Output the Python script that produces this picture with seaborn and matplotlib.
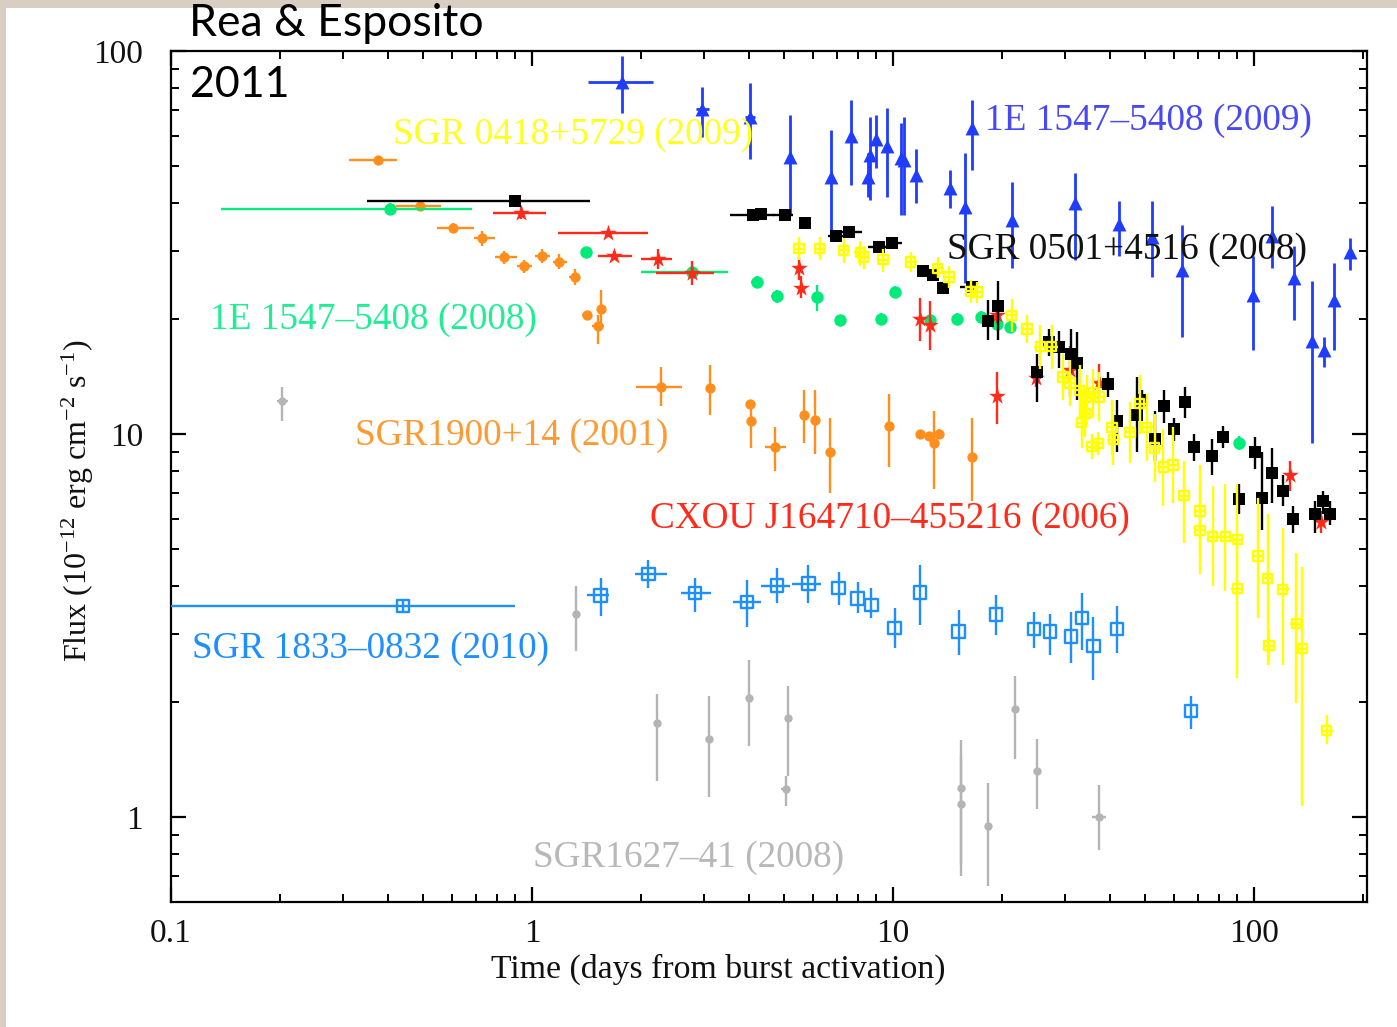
import numpy as np
import pandas as pd
import matplotlib
matplotlib.use("Agg")
import matplotlib.pyplot as plt
import seaborn as sns
from matplotlib.patches import Rectangle
from matplotlib.ticker import LogLocator, NullFormatter

nan = np.nan

# ---------------- SGR 1900+14 (2001) ----------------
sgr1900_t = [0.374, 0.488, 0.605, 0.725, 0.837, 0.952, 1.068, 1.19, 1.316, 1.42, 1.55, 1.52, 2.27,
             3.12, 4.02, 4.05, 4.71, 5.67, 6.09, 6.70, 9.75, 11.9, 12.6, 13.0, 13.4, 16.6]
sgr1900_f = [51.9, 39.5, 34.6, 32.4, 28.9, 27.4, 29.2, 28.2, 25.7, 20.4, 21.2, 19.1, 13.3,
             13.2, 12.0, 10.8, 9.27, 11.2, 10.9, 8.96, 10.5, 10.0, 9.9, 9.5, 10.0, 8.69]
sgr1900_tlo = [0.312, 0.42, 0.545, 0.69, 0.79, 0.91, 1.02, 1.14, 1.27, 1.38, nan, 1.47, 1.94,
               nan, 3.95, nan, 4.42, nan, nan, nan, nan, nan, nan, nan, nan, nan]
sgr1900_thi = [0.424, 0.56, 0.69, 0.79, 0.91, 1.0, 1.12, 1.25, 1.36, 1.47, nan, 1.58, 2.61,
               nan, 4.1, nan, 5.04, nan, nan, nan, nan, nan, nan, nan, nan, nan]
sgr1900_flo = [50.5, 38.5, 33.6, 31.0, 27.8, 26.3, 28.0, 27.0, 24.5, 19.8, 19.5, 17.2, 11.8,
               11.2, 11.7, 9.2, 8.0, 9.5, 8.85, 7.0, 8.2, 9.8, 9.7, 7.2, 9.7, 6.7]
sgr1900_fhi = [53.3, 40.5, 35.6, 33.8, 30.0, 28.5, 30.5, 29.5, 27.0, 21.0, 23.8, 20.5, 15.0,
               15.1, 12.3, 12.0, 10.4, 13.0, 13.0, 11.0, 12.7, 10.2, 10.1, 11.5, 10.3, 11.0]

# ---------------- SGR 0501+4516 (2008) ----------------
sgr0501_t = [0.897, 4.10, 4.30, 5.03, 5.72, 6.95, 7.55, 9.14, 9.96, 12.1, 12.9, 13.8, 16.6, 18.3,
             19.5, 25.1, 27.1, 28.8, 31.2, 32.3, 39.5, 41.8, 47.5, 48.9, 53.2, 56.4, 60.2, 64.2,
             68.0, 76.4, 82.2, 91.0, 100.6, 105, 112, 120, 128, 148, 155, 162]
sgr0501_f = [40.6, 37.4, 37.6, 37.3, 35.6, 32.9, 33.7, 30.8, 31.6, 26.6, 26.0, 24.1, 24.2, 19.7,
             21.6, 14.5, 17.4, 16.9, 16.2, 15.3, 13.5, 10.8, 11.2, 12.3, 9.7, 11.8, 10.3, 12.1,
             9.23, 8.78, 9.8, 6.75, 9.0, 6.8, 7.9, 7.1, 6.0, 6.2, 6.7, 6.2]
sgr0501_tlo = [0.35, 3.53, nan, 4.65, nan, 6.6, 7.2, 8.5, 9.6, nan, nan, nan, 15.3] + [nan] * 27
sgr0501_thi = [1.45, 4.67, nan, 5.3, nan, 7.3, 8.2, 9.6, 10.6, nan, nan, nan, 16.9] + [nan] * 27
sgr0501_flo = [39.5, 36.5, 36.7, 36.4, 34.7, 32.0, 32.8, 30.0, 30.8, 25.9, 25.3, 23.4, 23.5, 17.6,
               17.6, 12.1, 16.0, 14.9, 14.4, 12.3, 12.5, 9.0, 9.0, 11.6, 8.5, 10.7, 9.6, 11.0,
               8.5, 7.8, 9.2, 6.2, 8.1, 5.6, 6.6, 6.5, 5.5, 5.5, 6.2, 5.8]
sgr0501_fhi = [41.7, 38.3, 38.5, 38.2, 36.5, 33.8, 34.6, 31.6, 32.4, 27.3, 26.7, 24.8, 24.9, 22.4,
               25.1, 16.2, 18.8, 18.6, 18.8, 18.5, 14.5, 12.3, 14.1, 13.0, 11.5, 13.0, 11.0, 13.3,
               10.0, 9.7, 10.5, 7.4, 9.8, 9.0, 9.2, 7.8, 6.5, 6.7, 7.1, 6.7]

# ---------------- 1E 1547-5408 (2009) ----------------
e2009_t = [1.78, 2.95, 4.02, 5.19, 6.72, 7.64, 8.51, 8.64, 9.0, 9.63, 10.5, 10.7, 11.6, 14.4,
           15.8, 16.6, 21.3, 31.9, 42.4, 52.3, 63.3, 99.5, 112, 129, 145, 156, 167, 185]
e2009_f = [83.1, 70.4, 67.1, 52.8, 46.8, 60.0, 47.0, 53.5, 58.8, 56.5, 52.5, 51.8, 47.5, 43.8,
           39.2, 62.9, 36.3, 40.2, 35.3, 32.6, 26.8, 23.1, 32.9, 25.5, 17.5, 16.6, 22.4, 29.8]
e2009_tlo = [1.43, 2.85, 3.9] + [nan] * 25
e2009_thi = [2.16, 3.1, 4.15] + [nan] * 25
e2009_flo = [68.8, 59.8, 52.1, 37.3, 32.1, 44.8, 41.5, 40.8, 49.5, 41.6, 37.3, 37.3, 40.0, 38.8,
             24.8, 48.9, 27.1, 28.5, 29.1, 25.7, 17.9, 16.6, 27.1, 19.9, 9.5, 15.0, 16.6, 26.8]
e2009_fhi = [97.0, 80.7, 82.7, 68.0, 62.2, 74.5, 54.0, 67.4, 68.0, 70.9, 64.8, 67.4, 55.4, 49.0,
             54.0, 74.5, 45.6, 48.0, 40.7, 40.7, 35.1, 29.1, 39.3, 30.9, 25.1, 17.9, 27.9, 32.5]

# ---------------- SGR 0418+5729 (2009) ----------------
sgr0418_t = [5.49, 6.26, 7.30, 8.12, 8.3, 9.38, 11.2, 13.3, 14.3, 16.4, 17.1, 21.3, 23.5, 25.6,
             27.5, 29.6, 30.9, 32.9, 33.3, 34.0, 34.4, 35.5, 37.0, 35.8, 37.3, 40.4, 40.8, 45.3,
             48.2, 50.4, 53.1, 56.1, 59.6, 64.0, 70.8, 70.8, 76.9, 83.3, 90.0, 90.0, 102.5, 109,
             110, 120, 131, 136, 159]
sgr0418_f = [30.5, 30.5, 30.2, 29.8, 29.0, 28.5, 28.1, 27.1, 25.7, 23.6, 23.5, 20.4, 18.8, 16.9,
             16.9, 14.1, 13.6, 13.0, 10.7, 11.3, 12.5, 9.27, 9.45, 12.8, 12.5, 10.4, 9.67, 10.1,
             12.0, 10.4, 9.2, 8.2, 8.3, 6.9, 6.3, 5.6, 5.4, 5.4, 5.3, 3.95, 4.8, 4.2,
             2.8, 3.93, 3.2, 2.75, 1.68]
sgr0418_flo = [28.5, 28.5, 28.0, 27.5, 27.0, 26.5, 26.5, 25.5, 24.0, 22.0, 22.0, 18.5, 17.3, 14.8,
               14.8, 12.3, 11.8, 11.2, 9.2, 9.8, 10.9, 8.6, 8.8, 11.0, 10.8, 8.8, 8.3, 8.4,
               10.0, 8.5, 7.5, 6.5, 6.6, 5.2, 4.8, 4.3, 4.0, 3.9, 3.8, 2.3, 3.3, 2.5,
               2.55, 2.5, 1.98, 1.07, 1.55]
sgr0418_fhi = [32.7, 32.7, 32.5, 32.0, 31.0, 30.5, 29.8, 29.0, 27.5, 25.3, 25.0, 22.5, 20.4, 19.3,
               19.3, 16.2, 15.6, 15.1, 12.4, 13.0, 14.3, 10.0, 10.1, 14.8, 14.5, 12.3, 11.3, 12.1,
               14.3, 12.7, 11.3, 10.3, 10.4, 8.5, 8.3, 7.3, 7.3, 7.4, 7.4, 5.3, 6.8, 6.2,
               3.1, 5.7, 4.9, 4.5, 1.85]

# ---------------- 1E 1547-5408 (2008) ----------------
e2008_t = [0.404, 1.41, 2.77, 4.19, 4.76, 6.17, 7.12, 9.28, 10.1, 12.7, 15.0, 17.5, 19.4, 21.1, 91.0]
e2008_f = [38.7, 29.8, 26.5, 24.9, 22.9, 22.8, 19.8, 20.0, 23.5, 19.8, 20.0, 20.2, 19.4, 19.0, 9.5]
e2008_tlo = [0.138, 1.37, 2.0, 4.05, 4.6, nan, 6.9, 9.0, 9.8, nan, nan, nan, nan, nan, nan]
e2008_thi = [0.68, 1.46, 3.5, 4.35, 4.95, nan, 7.35, 9.55, 10.4, nan, nan, nan, nan, nan, nan]
e2008_flo = [37.5, 28.8, 25.5, 24.0, 22.0, 20.9, 19.1, 19.3, 22.6, 19.1, 19.3, 19.5, 18.7, 18.3, 9.1]
e2008_fhi = [40.0, 30.8, 27.5, 25.8, 23.8, 24.5, 20.5, 20.7, 24.4, 20.5, 20.7, 20.9, 20.1, 19.7, 9.9]

# ---------------- CXOU J164710-455216 (2006) ----------------
cxou_t = [0.93, 1.62, 1.69, 2.24, 2.78, 5.50, 5.55, 11.9, 12.7, 19.4, 19.4, 24.9, 31.0, 37.3, 126, 153]
cxou_f = [37.8, 33.4, 29.2, 28.7, 26.4, 27.1, 24.0, 20.0, 19.3, 12.6, 20.5, 14.0, 14.7, 13.6, 7.8, 5.9]
cxou_tlo = [0.78, 1.18, 1.52, 2.01, 2.2] + [nan] * 11
cxou_thi = [1.09, 2.09, 1.89, 2.45, 3.2] + [nan] * 11
cxou_flo = [36.5, 33.0, 28.5, 27.0, 24.5, 25.3, 22.6, 17.5, 16.6, 10.6, 19.5, 13.3, 12.5, 12.5, 7.1, 5.5]
cxou_fhi = [39.2, 33.8, 30.0, 30.5, 28.3, 29.0, 25.8, 22.6, 22.2, 14.5, 21.5, 14.7, 17.0, 15.2, 8.5, 6.3]

# ---------------- SGR 1833-0832 (2010) ----------------
sgr1833_t = [0.44, 1.55, 2.10, 2.83, 3.94, 4.77, 5.83, 7.07, 7.98, 8.71, 10.1, 11.9, 15.2, 19.3,
             24.6, 27.2, 31.1, 33.4, 35.9, 41.7, 66.9]
sgr1833_f = [3.56, 3.79, 4.31, 3.84, 3.64, 4.02, 4.07, 3.96, 3.72, 3.58, 3.12, 3.86, 3.05, 3.38,
             3.10, 3.05, 2.96, 3.31, 2.80, 3.10, 1.89]
sgr1833_tlo = [0.1, 1.42, 1.93, 2.58, 3.6, 4.3, 5.25] + [nan] * 14
sgr1833_thi = [0.9, 1.63, 2.36, 3.14, 4.3, 5.2, 6.3] + [nan] * 14
sgr1833_flo = [3.4, 3.35, 3.96, 3.44, 3.14, 3.61, 3.61, 3.58, 3.40, 3.30, 2.76, 3.17, 2.65, 2.99,
               2.76, 2.65, 2.52, 2.73, 2.28, 2.68, 1.70]
sgr1833_fhi = [3.7, 4.21, 4.69, 4.21, 4.16, 4.46, 4.54, 4.37, 4.12, 3.96, 3.52, 4.54, 3.47, 3.80,
               3.44, 3.39, 3.44, 3.85, 3.33, 3.56, 2.07]

# ---------------- SGR 1627-41 (2008) ----------------
sgr1627_t = [0.203, 1.32, 2.22, 3.1, 3.98, 5.12, 5.06, 15.4, 15.4, 18.3, 21.8, 25.1, 37.3]
sgr1627_f = [12.2, 3.38, 1.76, 1.6, 2.04, 1.81, 1.18, 1.19, 1.08, 0.945, 1.91, 1.32, 1.0]
sgr1627_tlo = [0.196, nan, nan, nan, nan, nan, 4.9, nan, nan, nan, nan, nan, 35.5]
sgr1627_thi = [0.211, nan, nan, nan, nan, nan, 5.2, nan, nan, nan, nan, nan, 39.0]
sgr1627_flo = [10.8, 2.71, 1.24, 1.13, 1.53, 1.28, 1.07, 0.75, 0.70, 0.66, 1.42, 1.05, 0.82]
sgr1627_fhi = [13.3, 4.0, 2.1, 2.07, 2.57, 2.2, 1.28, 1.45, 1.59, 1.23, 2.33, 1.6, 1.21]

# Axis ticks
x_major = [0.1, 1, 10, 100]
x_major_labels = ["0.1", "1", "10", "100"]
y_major = [1, 10, 100]
y_major_labels = ["1", "10", "100"]

# ---------------- style ----------------
sns.set_theme(style="ticks")
plt.rcParams["font.family"] = ["Liberation Serif", "DejaVu Serif"]
plt.rcParams["mathtext.fontset"] = "custom"
plt.rcParams["mathtext.rm"] = "Liberation Serif"
plt.rcParams["mathtext.it"] = "Liberation Serif:italic"

W, H = 1397, 1027
fig = plt.figure(figsize=(W / 100, H / 100), dpi=100)
fig.patch.set_facecolor("white")
# textured border strips along top and left edge
fig.patches.append(Rectangle((0, 1 - 8 / H), 1, 8 / H, transform=fig.transFigure,
                             facecolor="#d8cfc2", edgecolor="none", zorder=0))
fig.patches.append(Rectangle((0, 0), 6 / W, 1, transform=fig.transFigure,
                             facecolor="#d8cfc2", edgecolor="none", zorder=0))

ax = fig.add_axes([171 / W, 1 - 902 / H, (1367 - 171) / W, (902 - 51) / H])
ax.set_xscale("log")
ax.set_yscale("log")
ax.set_xlim(0.1, 205.6)
ax.set_ylim(0.6, 100)
ax.set_facecolor("white")


def plot_series(t, f, tlo, thi, flo, fhi, color, marker, size, hollow=False,
                lw=1.7, z=3, cross=False):
    t = np.asarray(t, float)
    f = np.asarray(f, float)
    tlo = np.where(np.isnan(np.asarray(tlo, float)), t, tlo)
    thi = np.where(np.isnan(np.asarray(thi, float)), t, thi)
    flo = np.asarray(flo, float)
    fhi = np.asarray(fhi, float)
    ax.errorbar(t, f, xerr=[t - tlo, thi - t], yerr=[f - flo, fhi - f], fmt="none",
                ecolor=color, elinewidth=lw, capsize=0, zorder=z)
    df = pd.DataFrame({"t": t, "f": f})
    sns.scatterplot(data=df, x="t", y="f", ax=ax, marker=marker, s=size, color=color,
                    linewidth=0, legend=False, zorder=z + 0.5)
    coll = ax.collections[-1]
    if hollow:
        coll.set_facecolor("none")
        coll.set_edgecolor(color)
        coll.set_linewidth(lw)
    if cross:
        sns.scatterplot(data=df, x="t", y="f", ax=ax, marker="+", s=size * 1.6, color=color,
                        linewidth=lw, legend=False, zorder=z + 0.5)


c_orange = "#ff8e1c"
c_black = "#000000"
c_blue = "#1f3cff"
c_yellow = "#ffff00"
c_green = "#00eb7a"
c_red = "#ff2a1a"
c_dodger = "#1e8fff"
c_grey = "#b4b4b4"

plot_series(sgr1627_t, sgr1627_f, sgr1627_tlo, sgr1627_thi, sgr1627_flo, sgr1627_fhi,
            c_grey, "o", 36, z=2)
plot_series(sgr1833_t, sgr1833_f, sgr1833_tlo, sgr1833_thi, sgr1833_flo, sgr1833_fhi,
            c_dodger, "s", 80, hollow=True, z=3)
plot_series(sgr1900_t, sgr1900_f, sgr1900_tlo, sgr1900_thi, sgr1900_flo, sgr1900_fhi,
            c_orange, "o", 55, z=3)
plot_series(e2009_t, e2009_f, e2009_tlo, e2009_thi, e2009_flo, e2009_fhi,
            c_blue, "^", 100, z=4, lw=2.0)
plot_series(e2008_t, e2008_f, e2008_tlo, e2008_thi, e2008_flo, e2008_fhi,
            c_green, "o", 80, z=4)
plot_series(cxou_t, cxou_f, cxou_tlo, cxou_thi, cxou_flo, cxou_fhi,
            c_red, "*", 160, z=5)
plot_series(sgr0501_t, sgr0501_f, sgr0501_tlo, sgr0501_thi, sgr0501_flo, sgr0501_fhi,
            c_black, "s", 68, z=6)
plot_series(sgr0418_t, sgr0418_f, [nan] * len(sgr0418_t), [nan] * len(sgr0418_t),
            sgr0418_flo, sgr0418_fhi, c_yellow, "s", 45, hollow=True, z=7, cross=True)

# ---------------- axes styling ----------------
for sp in ax.spines.values():
    sp.set_visible(True)
    sp.set_color("black")
    sp.set_linewidth(1.6)

ax.set_xticks(x_major)
ax.set_xticklabels(x_major_labels)
ax.set_yticks(y_major)
ax.set_yticklabels(y_major_labels)
ax.xaxis.set_minor_locator(LogLocator(base=10, subs=np.arange(2, 10)))
ax.yaxis.set_minor_locator(LogLocator(base=10, subs=np.arange(2, 10)))
ax.xaxis.set_minor_formatter(NullFormatter())
ax.yaxis.set_minor_formatter(NullFormatter())
ax.tick_params(which="both", direction="in", top=True, right=True, colors="black")
ax.tick_params(which="major", length=11, width=1.6)
ax.tick_params(which="minor", length=6, width=1.4)
ax.tick_params(axis="x", which="major", labelsize=24, pad=12)
ax.tick_params(axis="y", which="major", labelsize=24, pad=20)
for lab in ax.get_xticklabels() + ax.get_yticklabels():
    lab.set_color("#111111")
ax.set_xlabel("")
ax.set_ylabel("")


def ftext(px, py, s, **kw):
    fig.text(px / W, 1 - py / H, s, **kw)


ftext(718, 969, "Time (days from burst activation)", ha="center", va="center",
      fontsize=24.3, color="#111111")
ftext(78, 501, r"Flux (10$^{-12}$ erg cm$^{-2}$ s$^{-1}$)", ha="center", va="center",
      rotation=90, fontsize=23, color="#111111")

lab_kw = dict(fontsize=26.8, va="center", ha="left", zorder=20)
ftext(393, 135, "SGR 0418+5729 (2009)", color="#ffff22", **lab_kw)
ftext(985, 121, "1E 1547\u20135408 (2009)", color="#4848f4", **lab_kw)
ftext(947, 250, "SGR 0501+4516 (2008)", color="#111111", **lab_kw)
ftext(210, 320, "1E 1547\u20135408 (2008)", color="#1fee95", **lab_kw)
ftext(355, 436, "SGR1900+14 (2001)", color="#ff9a33", **lab_kw)
ftext(650, 519, "CXOU J164710\u2013455216 (2006)", color="#ff2a1a", **lab_kw)
ftext(192, 649, "SGR 1833\u20130832 (2010)", color="#1e8fff", **lab_kw)
ftext(533, 858, "SGR1627\u201341 (2008)", color="#b8b8b8", **lab_kw)

ftext(189, 23, "Rea & Esposito", fontsize=32, family=["Lato", "DejaVu Sans"],
      color="black", ha="left", va="center")
ftext(190, 85, "2011", fontsize=31, family=["Lato", "DejaVu Sans"],
      color="black", ha="left", va="center")

fig.savefig("out.png", dpi=100, facecolor=fig.get_facecolor())
